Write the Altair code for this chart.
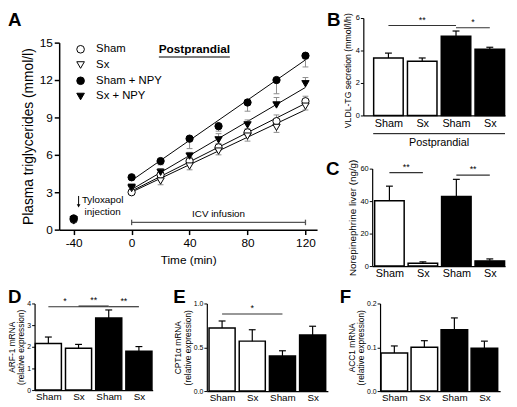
import altair as alt
import pandas as pd

FONT = "Liberation Sans"
W, H = 509, 399   # whole drawing (page minus 8px margins)
M = 8             # page margin

# ---------------- Panel A data ----------------
times = [-40, 0, 20, 40, 60, 80, 100, 120]
groups_A = ["Sham", "Sx", "Sham + NPY", "Sx + NPY"]
tg_sham = [0.8, 3.0, 4.4, 5.5, 6.6, 7.8, 8.7, 10.3]
tg_sx = [0.7, 3.3, 3.9, 5.1, 6.3, 7.5, 8.2, 9.9]
tg_sham_npy = [0.9, 4.2, 5.5, 7.3, 8.3, 10.2, 12.0, 13.95]
tg_sx_npy = [0.8, 3.4, 4.6, 5.9, 7.2, 8.4, 10.0, 11.7]
sem_sham = [0, 0.2, 0.3, 0.3, 0.3, 0.3, 0.5, 0.4]
sem_sx = [0, 0.2, 0.3, 0.3, 0.3, 0.4, 0.4, 0.3]
sem_sham_npy = [0, 0.2, 0.3, 0.8, 0.4, 0.7, 1.1, 0.9]
sem_sx_npy = [0, 0.2, 0.3, 0.3, 0.5, 0.4, 0.6, 0.5]
err_side = [1, -1, -1, 1]   # which half of the SEM bar is drawn

# ---------------- Bar panel data ----------------
bar_labels = ["Sham", "Sx", "Sham", "Sx"]
bar_treat = ["Vehicle", "Vehicle", "NPY", "NPY"]
vldl = [3.54, 3.34, 4.88, 4.08]
vldl_sem = [0.30, 0.20, 0.32, 0.12]
norepi = [40.2, 1.8, 42.8, 3.2]
norepi_sem = [9.0, 0.8, 10.6, 1.2]
arf1 = [2.15, 1.93, 3.33, 1.79]
arf1_sem = [0.30, 0.18, 0.37, 0.22]
cpt1 = [0.72, 0.57, 0.40, 0.64]
cpt1_sem = [0.08, 0.13, 0.06, 0.10]
acc1 = [0.087, 0.100, 0.140, 0.098]
acc1_sem = [0.016, 0.015, 0.027, 0.016]

# significance bars: (from bar, to bar, level, label, label position)
sig_B = [(0, 2, 5.54, "**", 1.0), (2, 3, 5.40, "*", 2.5)]
sig_C = [(0, 1, 57.5, "**", 0.5), (2, 3, 56.0, "**", 2.5)]
sig_D = [(0, 2, 3.85, "*", 0.55), (1, 2, 3.88, "**", 1.5), (2, 3, 3.85, "**", 2.5)]
sig_E = [(0, 2, 0.88, "*", 1.0)]


def ax(**kw):
    base = dict(labelFont=FONT, titleFont=FONT, labelColor="black", titleColor="black",
                domainColor="black", tickColor="black", grid=False, titleFontWeight="normal")
    base.update(kw)
    return alt.Axis(**base)


# ---------------- Panel A ----------------
rows = []
for g, vals, sems, sd in zip(groups_A, [tg_sham, tg_sx, tg_sham_npy, tg_sx_npy],
                             [sem_sham, sem_sx, sem_sham_npy, sem_sx_npy], err_side):
    for t, v, s in zip(times, vals, sems):
        rows.append({"group": g, "t": t, "v": v, "sem": s, "side": sd})
dfA = pd.DataFrame(rows)

xA = alt.Scale(domain=[-50, 128], range=[60 - M, 322 - M], nice=False, zero=False)
yA = alt.Scale(domain=[0, 15], range=[230 - M, 40 - M], nice=False, zero=False)
axA_x = ax(orient="bottom", values=[-40, 0, 40, 80, 120], title="Time (min)",
           offset=(230 - M) - H, tickSize=5, labelFontSize=12, titleFontSize=12,
           titlePadding=6, labelPadding=3, domainWidth=1.5, tickWidth=1.5,
           labelFlush=False, labelOverlap=False,
           labelExpr="datum.value < 0 ? '-' + abs(datum.value) : '' + datum.value")
axA_y = ax(orient="left", values=[0, 3, 6, 9, 12, 15], title="Plasma triglycerides (mmol/l)",
           offset=-(60 - M), tickSize=5, labelFontSize=12, titleFontSize=14,
           titlePadding=4, labelPadding=2, domainWidth=1.5, tickWidth=1.5)


def XA(f, axis=None):
    return alt.X(f, scale=xA, axis=axis)


def YA(f, axis=None):
    return alt.Y(f, scale=yA, axis=axis)


baseA = alt.Chart(dfA)
regA = baseA.transform_filter("datum.t >= 0").transform_regression(
    "t", "v", groupby=["group"], extent=[0, 120]
).mark_line(color="black", strokeWidth=1).encode(
    x=XA("t:Q", axA_x), y=YA("v:Q", axA_y), detail="group:N")
errA = baseA.transform_filter("datum.sem > 0").transform_calculate(
    e="datum.v + datum.side * datum.sem"
).mark_rule(color="#8c8c8c", strokeWidth=1).encode(x=XA("t:Q"), y=YA("v:Q"), y2="e:Q")
capA = baseA.transform_filter("datum.sem > 0").transform_calculate(
    e="datum.v + datum.side * datum.sem", cl="datum.t - 2", cr="datum.t + 2"
).mark_rule(color="#8c8c8c", strokeWidth=1).encode(x=XA("cl:Q"), x2="cr:Q", y=YA("e:Q"))

legA = alt.Legend(orient="none", legendX=68, legendY=33, title=None,
                  labelFont=FONT, labelFontSize=11.5, labelColor="black",
                  symbolSize=60, symbolStrokeWidth=1, rowPadding=3, labelOffset=10,
                  symbolOpacity=1)
ptsA = baseA.mark_point(filled=True, size=55, strokeWidth=1, opacity=1).encode(
    x=XA("t:Q"), y=YA("v:Q"),
    shape=alt.Shape("group:N", scale=alt.Scale(domain=groups_A,
                    range=["circle", "triangle-down", "circle", "triangle-down"]), legend=legA),
    fill=alt.Fill("group:N", scale=alt.Scale(domain=groups_A,
                  range=["white", "white", "black", "black"]), legend=legA),
    stroke=alt.Stroke("group:N", scale=alt.Scale(domain=groups_A,
                      range=["black", "black", "black", "black"]), legend=legA),
)

# annotations of panel A (data coordinates)
tylox = pd.DataFrame({"x": [-20, -20], "y": [2.35, 1.45], "txt": ["Tyloxapol", "injection"]})
arrow = pd.DataFrame({"x": [-36.6], "y": [2.7], "y2": [1.9]})
icv = pd.DataFrame({"x": [0], "x2": [120], "y": [0.58]})
icv_caps = pd.DataFrame({"x": [0, 120], "y": [0.36, 0.36], "y2": [0.8, 0.8]})
icv_txt = pd.DataFrame({"x": [60], "y": [1.25], "txt": ["ICV infusion"]})
post_txt = pd.DataFrame({"x": [43.3], "y": [14.45], "txt": ["Postprandial"]})
post_line = pd.DataFrame({"x": [18.8], "x2": [67.8], "y": [13.85]})

annA = [
    alt.Chart(tylox).mark_text(font=FONT, fontSize=10, color="black", align="center",
                               baseline="middle").encode(x=XA("x:Q"), y=YA("y:Q"), text="txt:N"),
    alt.Chart(arrow).mark_rule(color="black", strokeWidth=1).encode(x=XA("x:Q"), y=YA("y:Q"), y2="y2:Q"),
    alt.Chart(arrow).mark_point(shape="triangle-down", filled=True, size=14, color="black",
                                opacity=1).encode(x=XA("x:Q"), y=YA("y2:Q")),
    alt.Chart(icv).mark_rule(color="#555555", strokeWidth=1.3).encode(x=XA("x:Q"), x2="x2:Q", y=YA("y:Q")),
    alt.Chart(icv_caps).mark_rule(color="#555555", strokeWidth=1.3).encode(x=XA("x:Q"), y=YA("y:Q"), y2="y2:Q"),
    alt.Chart(icv_txt).mark_text(font=FONT, fontSize=10, color="black").encode(
        x=XA("x:Q"), y=YA("y:Q"), text="txt:N"),
    alt.Chart(post_txt).mark_text(font=FONT, fontSize=12, fontWeight="bold", color="black").encode(
        x=XA("x:Q"), y=YA("y:Q"), text="txt:N"),
    alt.Chart(post_line).mark_rule(color="black", strokeWidth=1.2).encode(x=XA("x:Q"), x2="x2:Q", y=YA("y:Q")),
]

unitsA = [regA, errA, capA, ptsA] + annA

# ---------------- Bar panels ----------------
label_expr = "[" + ",".join("'%s'" % c for c in bar_labels) + "][datum.value]"


def bar_panel(vals, sems, sig, g, yticks, ytitle, lab_size, tick_size, title_size,
              extra=None, title_kw=None):
    step = (g["c3"] - g["c0"]) / 3
    dom = [(g["x0"] - g["c0"]) / step, 3 + (g["x1"] - g["c3"]) / step]
    half = g["bw"] / (2 * step)
    cap = 3.5 / step
    df = pd.DataFrame({"idx": list(range(len(bar_labels))), "treat": bar_treat,
                       "val": vals, "sem": sems})
    xs = alt.Scale(domain=dom, range=[g["x0"] - M, g["x1"] - M], nice=False, zero=False)
    ys = alt.Scale(domain=g["ydom"], range=[g["yb"] - M, g["yt"] - M], nice=False, zero=False)
    xax = ax(orient="bottom", values=list(range(4)), labelExpr=label_expr, title=None,
             ticks=False, labelPadding=g.get("lp", 2), labelFontSize=lab_size,
             offset=(g["yb"] - M) - H, labelOverlap=False, labelFlush=False, domainWidth=1.2)
    ykw = dict(orient="left", values=yticks, title=ytitle, offset=-(g["x0"] - M), tickSize=3,
               labelFontSize=tick_size, titleFontSize=title_size, labelPadding=1,
               titlePadding=3, domainWidth=1.2, titleLineHeight=title_size + 1)
    if title_kw:
        ykw.update(title_kw)
    yax = ax(**ykw)
    base = alt.Chart(df)
    bars = base.transform_calculate(
        xa="datum.idx - %f" % half, xb="datum.idx + %f" % half
    ).mark_bar(stroke="black", strokeWidth=1.5).encode(
        x=alt.X("xa:Q", scale=xs, axis=xax), x2="xb:Q",
        y=alt.Y("val:Q", scale=ys, axis=yax), y2=alt.datum(0),
        fill=alt.Fill("treat:N", scale=alt.Scale(domain=["Vehicle", "NPY"],
                      range=["white", "black"]), legend=None),
    )
    err = base.transform_calculate(top="datum.val + datum.sem").mark_rule(
        color="black", strokeWidth=1.2).encode(
        x=alt.X("idx:Q", scale=xs, axis=None),
        y=alt.Y("val:Q", scale=ys, axis=None), y2="top:Q")
    caps = base.transform_calculate(
        top="datum.val + datum.sem", cl="datum.idx - %f" % cap, cr="datum.idx + %f" % cap
    ).mark_rule(color="black", strokeWidth=1.2).encode(
        x=alt.X("cl:Q", scale=xs, axis=None), x2="cr:Q",
        y=alt.Y("top:Q", scale=ys, axis=None))
    layers = [bars, err, caps]
    if sig:
        sdf = pd.DataFrame(sig, columns=["a", "b", "y", "lab", "at"])
        layers.append(alt.Chart(sdf).mark_rule(color="#333333", strokeWidth=1.2).encode(
            x=alt.X("a:Q", scale=xs, axis=None), x2="b:Q",
            y=alt.Y("y:Q", scale=ys, axis=None)))
        layers.append(alt.Chart(sdf).mark_text(font=FONT, fontSize=9, baseline="bottom",
                                               dy=-1, color="black").encode(
            x=alt.X("at:Q", scale=xs, axis=None),
            y=alt.Y("y:Q", scale=ys, axis=None), text="lab:N"))
    if extra:
        layers.extend(extra(xs))
    return layers


geom_B = dict(x0=369, x1=513, c0=394.5, c3=497.5, bw=30, yb=114, yt=15, ydom=[0, 6])
geom_C = dict(x0=378, x1=513, c0=395.5, c3=497.5, bw=30, yb=267, yt=168, ydom=[0, 60])
geom_D = dict(x0=35, x1=155, c0=49, c3=141, bw=26.5, yb=393, yt=305, ydom=[0, 4])
geom_E = dict(x0=210, x1=333, c0=225.5, c3=317.5, bw=26.5, yb=394, yt=305, ydom=[0, 1])
geom_F = dict(x0=386, x1=508, c0=400.5, c3=492, bw=27, yb=394, yt=305, ydom=[0, 0.2])


def post_B(xs):
    line = pd.DataFrame({"a": [-0.45], "b": [3.45]})
    txt = pd.DataFrame({"x": [1.5], "txt": ["Postprandial"]})
    return [
        alt.Chart(line).mark_rule(color="black", strokeWidth=1).encode(
            x=alt.X("a:Q", scale=xs, axis=None), x2="b:Q", y=alt.value(132.5 - M)),
        alt.Chart(txt).mark_text(font=FONT, fontSize=11, color="black", baseline="middle").encode(
            x=alt.X("x:Q", scale=xs, axis=None), y=alt.value(142.5 - M), text="txt:N"),
    ]


small_title = dict(titlePadding=1, titleLineHeight=9.5)

unitsB = bar_panel(vldl, vldl_sem, sig_B, geom_B, [0, 2, 4, 6],
                   "VLDL-TG secretion (mmol/l/h)", 11, 7.5, 8.8,
                   extra=post_B, title_kw=dict(titleY=60))
unitsC = bar_panel(norepi, norepi_sem, sig_C, geom_C, [0, 20, 40, 60],
                   "Norepinephrine liver (ng/g)", 11, 7.5, 10)
unitsD = bar_panel(arf1, arf1_sem, sig_D, geom_D, [0, 1, 2, 3, 4],
                   ["ARF-1 mRNA", "(relative expression)"], 10, 7, 8.5,
                   title_kw=dict(small_title))
unitsE = bar_panel(cpt1, cpt1_sem, sig_E, geom_E, [0, 0.5, 1.0],
                   ["CPT1\u03b1 mRNA", "(relative expression)"], 10, 7, 8.5,
                   title_kw=dict(small_title, format=".1f"))
unitsF = bar_panel(acc1, acc1_sem, None, geom_F, [0, 0.1, 0.2],
                   ["ACC1 mRNA", "(relative expression)"], 10, 7, 8.5,
                   title_kw=dict(small_title, format=".1f"))


# ---------------- Panel letters ----------------
def letter(ch, x, y):
    return alt.Chart(alt.Data(values=[{}])).mark_text(
        font=FONT, fontSize=19, fontWeight="bold", align="left", baseline="top", color="black"
    ).encode(x=alt.value(x - M), y=alt.value(y - M), text=alt.value(ch))


letters = [letter("A", 8, 8), letter("B", 332, 8), letter("C", 331, 159),
           letter("D", 8, 290), letter("E", 176, 290), letter("F", 345, 290)]

units = unitsA + unitsB + unitsC + unitsD + unitsE + unitsF + letters
chart = alt.layer(*units).resolve_scale(
    x="independent", y="independent", fill="independent", shape="independent",
    stroke="independent"
).properties(
    width=W, height=H, autosize=alt.AutoSizeParams(type="none"), padding=0
).configure_view(stroke=None)

chart.save("out.html", embed_options={"renderer": "svg", "actions": False})
